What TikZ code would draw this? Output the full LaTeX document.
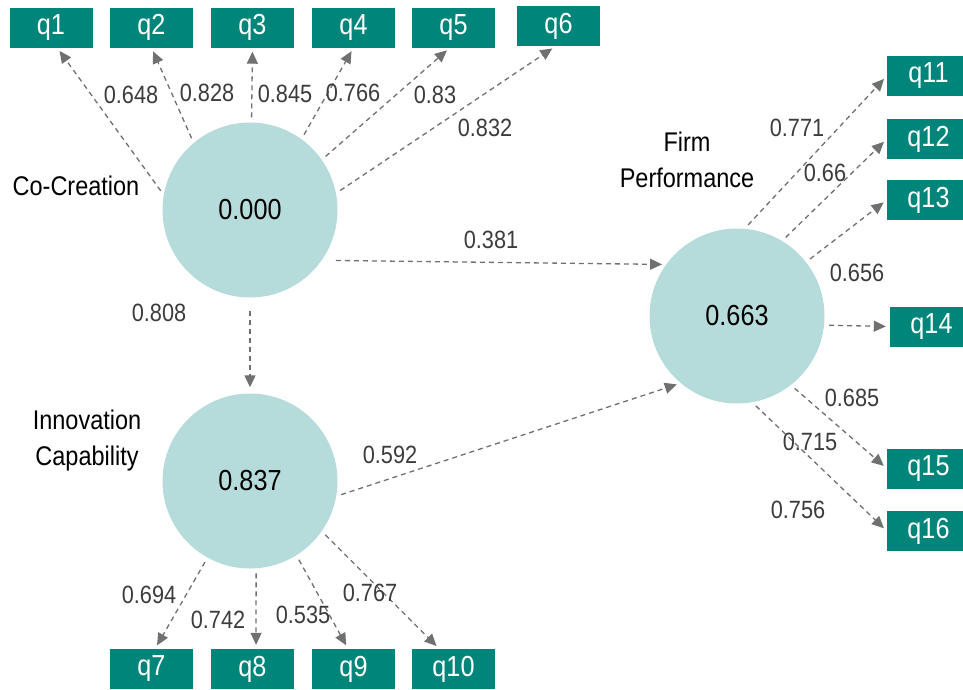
\documentclass[tikz,border=0pt]{standalone}
\usepackage{fontspec}
\setmainfont{Liberation Sans}[FakeStretch=0.87]
\usetikzlibrary{arrows.meta}
\definecolor{boxteal}{RGB}{0,133,122}
\definecolor{circfill}{RGB}{181,220,219}
\definecolor{arrgray}{RGB}{112,112,112}
\definecolor{numgray}{RGB}{60,60,60}
\tikzset{
  item/.style={fill=boxteal, text=white, minimum width=83pt, minimum height=40pt, inner sep=0pt, font=\fontsize{29}{29}\selectfont},
  latent/.style={circle, fill=circfill, minimum size=175pt, inner sep=0pt, font=\fontsize{29}{29}\selectfont},
  load/.style={draw=arrgray, line width=1.3pt, dash pattern=on 5pt off 4pt, shorten <=5pt, shorten >=4pt, -{Triangle[length=12pt,width=11pt]}},
  coef/.style={text=numgray, font=\fontsize{25}{25}\selectfont, inner sep=1pt},
  cname/.style={align=center, font=\fontsize{27}{36}\selectfont}
}
\begin{document}
\begin{tikzpicture}[x=1pt,y=-1pt]
\useasboundingbox (0,0) rectangle (963,689);
\clip (0,0) rectangle (963,689);
% latent variables
\node[latent] (cc) at (250,210) {0.000};
\node[latent] (ic) at (250,481) {0.837};
\node[latent] (fp) at (737,316) {0.663};
\node[cname] (ccname) at (76,186) {Co-Creation};
\node[cname] (icname) at (87,441) {Innovation\\Capability};
\node[cname] (fpname) at (687,160) {Firm\\Performance};
% indicators
\foreach \n/\x/\y in {1/51/27.5, 2/151.5/27.5, 3/252.5/27.5, 4/353.5/27.5, 5/453.5/27.5, 6/558.5/26,
  7/151.5/669, 8/252.5/669, 9/353.5/669, 10/453.5/669,
  11/928.5/76, 12/928.5/139, 13/928.5/200, 14/931.5/326.5, 15/928.5/468.5, 16/928.5/531}
{
  \node[item] (q\n) at (\x,\y) {q\n};
}
% outer loadings
\foreach \s/\t/\x/\y/\v [count=\k] in {cc.170/q1.-73/131/95/0.648, cc.130/q2.south/207/93/0.828,
  cc.89/q3.south/285/94/0.845, cc.54/q4.south/353/93/0.766, cc.35/q5.-100/435/95/0.83,
  cc.11/q6.-98/485/128/0.832,
  ic.-119/q7.80/149/595/0.694, ic.-86/q8.80/218/620/0.742, ic.-58/q9.105/303/615/0.535,
  ic.-35/q10.125/370/593/0.767,
  fp.85/q11.west/797/128/0.771, fp.59/q12.west/825/173/0.66, fp.38/q13.west/857/273/0.656,
  fp.-6/q14.west/852/398/0.685, fp.-52/q15.west/810/442/0.715, fp.-80/q16.west/798/510/0.756}
{
  \draw[load] (\s) -- (\t);
  \node[coef] (w\k) at (\x,\y) {\v};
}
% paths
\draw[load, shorten <=13pt, shorten >=6pt] (cc) -- (ic);
\draw[load, shorten <=14pt] (cc.-35) -- (fp.144);
\draw[load] (ic.-10) -- (fp.230);
\node[coef] (w17) at (491,240) {0.381};
\node[coef] (w18) at (159,313) {0.808};
\node[coef] (w19) at (390,455) {0.592};
\end{tikzpicture}
\end{document}
